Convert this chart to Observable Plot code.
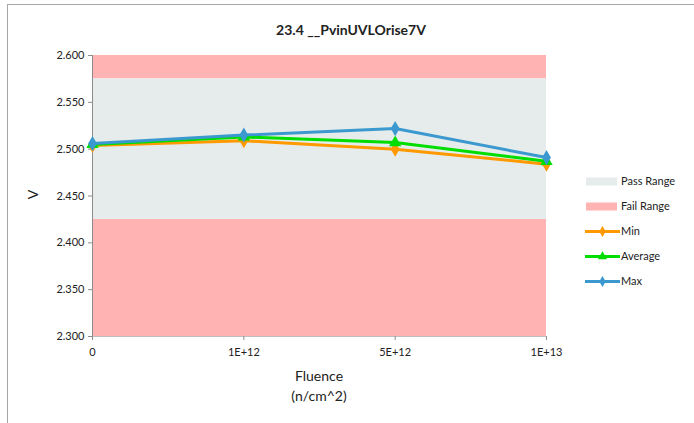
<!DOCTYPE html>
<html>
<head>
<meta charset="utf-8">
<script src="https://cdn.jsdelivr.net/npm/d3@7"></script>
<script src="https://cdn.jsdelivr.net/npm/@observablehq/plot@0.6"></script>
<style>
  html, body { margin: 0; padding: 0; background: #fff; }
  #wrap { position: relative; width: 694px; height: 423px; overflow: hidden; font-family: Lato, "Open Sans", sans-serif; }
  #frame { position: absolute; left: 7px; top: 4px; width: 800px; height: 500px; border-left: 1px solid #a6a6a6; border-top: 1px solid #a6a6a6; }
  .t { position: absolute; color: #222; white-space: nowrap; }
  #chart { position: absolute; left: 0; top: 0; }
</style>
</head>
<body>
<div id="wrap">
  <div id="frame"></div>
  <div id="chart"></div>
  <div class="t" id="title" style="left:0;width:702px;text-align:center;top:21px;font-weight:bold;font-size:14px;">23.4 __PvinUVLOrise7V</div>
  <div class="t" style="left:28px;top:186px;font-size:14px;transform:rotate(-90deg);">V</div>
  <div class="t" style="left:219px;width:200px;text-align:center;top:366px;font-size:14px;line-height:20px;">Fluence<br>(n/cm^2)</div>
  <div id="legend" style="position:absolute;left:580px;top:168px;"></div>
</div>
<script>
const categories = ["0", "1E+12", "5E+12", "1E+13"];
const minValues = [2.504, 2.509, 2.500, 2.484];
const avgValues = [2.505, 2.513, 2.507, 2.487];
const maxValues = [2.506, 2.515, 2.522, 2.491];
const passRange = [2.425, 2.575];
const failRanges = [[2.300, 2.425], [2.575, 2.600]];
const yTicks = [2.300, 2.350, 2.400, 2.450, 2.500, 2.550, 2.600];

const seriesDefs = [
  {name: "Min", values: minValues, color: "#ff9900", symbol: "diamond"},
  {name: "Average", values: avgValues, color: "#00dd00", symbol: "triangle"},
  {name: "Max", values: maxValues, color: "#3b99cf", symbol: "diamond"}
];

const rows = seriesDefs.flatMap(s => s.values.map((v, i) => ({series: s.name, i, v, color: s.color, symbol: s.symbol})));
const last = categories.length - 1;

const marks = [
  Plot.rect(failRanges, {x1: 0, x2: last, y1: d => d[0], y2: d => d[1], fill: "#ffb3b3"}),
  Plot.rect([passRange], {x1: 0, x2: last, y1: d => d[0], y2: d => d[1], fill: "#e6ecec"}),
  Plot.ruleX([0], {stroke: "#8c8c8c"}),
  Plot.ruleY([yTicks[0]], {stroke: "#bfbfbf"}),
  Plot.axisY({ticks: yTicks, tickFormat: d3.format(".3f"), tickSize: 4, tickPadding: 4, fontSize: 11, label: null, color: "#222"}),
  Plot.axisX({ticks: d3.range(categories.length), tickFormat: i => categories[i], tickSize: 4, tickPadding: 8, fontSize: 11, label: null, color: "#222"})
];
for (const s of seriesDefs) {
  const d = rows.filter(r => r.series === s.name);
  marks.push(Plot.line(d, {x: "i", y: "v", stroke: s.color, strokeWidth: 3}));
  marks.push(Plot.dot(d, {x: "i", y: "v", fill: s.color, symbol: s.symbol, r: 4.6}));
}

const chart = Plot.plot({
  width: 694, height: 423,
  marginLeft: 92, marginRight: 148, marginTop: 55, marginBottom: 87,
  style: {background: "transparent", fontFamily: "Lato, 'Open Sans', sans-serif", color: "#222"},
  x: {type: "linear", domain: [0, last]},
  y: {domain: [yTicks[0], yTicks[yTicks.length - 1]]},
  marks
});
chart.querySelectorAll("g[aria-label='y-axis tick'] path, g[aria-label='x-axis tick'] path").forEach(p => p.setAttribute("stroke", "#8c8c8c"));
document.getElementById("chart").appendChild(chart);

// legend
const legendItems = [
  {name: "Pass Range", type: "rect", color: "#e6ecec"},
  {name: "Fail Range", type: "rect", color: "#ffb3b3"},
  ...seriesDefs.map(s => ({name: s.name, type: "line", color: s.color, symbol: s.symbol}))
];
const lsvg = d3.create("svg").attr("width", 114).attr("height", 130).style("overflow", "visible");
legendItems.forEach((it, k) => {
  const y = 13.5 + k * 25;
  const g = lsvg.append("g").attr("transform", `translate(0,${y})`);
  if (it.type === "rect") {
    g.append("rect").attr("x", 6).attr("y", -4).attr("width", 31).attr("height", 8).attr("fill", it.color);
  } else {
    g.append("line").attr("x1", 5).attr("x2", 40).attr("y1", 0).attr("y2", 0).attr("stroke", it.color).attr("stroke-width", 3);
    const sym = it.symbol === "triangle" ? d3.symbolTriangle : d3.symbolDiamond;
    g.append("path").attr("transform", "translate(22.5,0)").attr("d", d3.symbol(sym, 36)()).attr("fill", it.color);
  }
  g.append("text").attr("x", 41).attr("y", 0).attr("dy", "0.35em").attr("font-size", 11)
    .attr("font-family", "Lato, 'Open Sans', sans-serif").attr("fill", "#222").text(it.name);
});
document.getElementById("legend").appendChild(lsvg.node());
</script>
</body>
</html>
